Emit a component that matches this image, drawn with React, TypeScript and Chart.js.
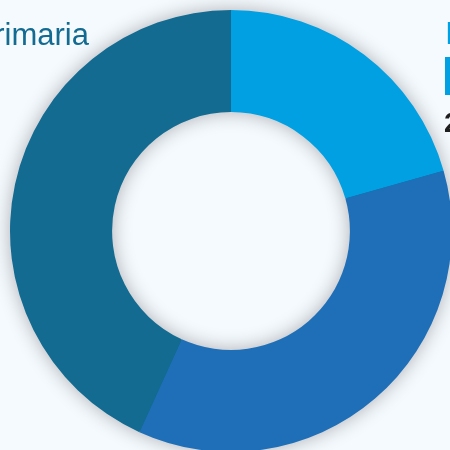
import React, { useEffect, useRef } from "react";
import { Chart, registerables } from "chart.js";

Chart.register(...registerables);

const categories = ["Infantil", "Secundaria", "Primaria"];
const values = [20.6, 36.2, 43.2];
const colors = ["#00A0E3", "#1F6FB8", "#136B91"];

const BG = "#F5FAFE";

const ringShadow = {
  id: "ringShadow",
  beforeDatasetsDraw(chart: any) {
    const meta = chart.getDatasetMeta(0);
    const arc = meta.data[0];
    if (!arc) return;
    const { x, y, outerRadius, innerRadius } = arc.getProps(["x", "y", "outerRadius", "innerRadius"], true);
    const ctx = chart.ctx;
    ctx.save();
    ctx.shadowColor = "rgba(0,0,0,0.32)";
    ctx.shadowBlur = 20;
    ctx.fillStyle = colors[2];
    ctx.beginPath();
    ctx.arc(x, y, outerRadius - 1, 0, Math.PI * 2);
    ctx.arc(x, y, innerRadius + 1, 0, Math.PI * 2, true);
    ctx.closePath();
    ctx.fill();
    ctx.restore();
  },
};

const labelsPlugin = {
  id: "outerLabels",
  afterDraw(chart: any) {
    const ctx = chart.ctx;
    ctx.save();
    ctx.font = "31px 'Liberation Sans', Arial, sans-serif";
    ctx.textBaseline = "alphabetic";
    // Primaria (third category), top-left
    ctx.fillStyle = colors[2];
    ctx.textAlign = "right";
    ctx.fillText(categories[2], 89, 45);
    // Infantil (first category), top-right
    ctx.fillStyle = colors[0];
    ctx.textAlign = "left";
    ctx.fillText(categories[0], 445, 44);
    ctx.fillRect(445, 57, 40, 38);
    ctx.fillStyle = "#1E1E1E";
    ctx.font = "bold 28px 'Liberation Sans', Arial, sans-serif";
    ctx.fillText(Math.round(values[0]) + "%", 444, 132);
    ctx.restore();
  },
};

export default function App() {
  const ref = useRef<HTMLCanvasElement | null>(null);
  useEffect(() => {
    if (!ref.current) return;
    const chart = new Chart(ref.current, {
      type: "doughnut",
      data: {
        labels: categories,
        datasets: [
          {
            data: values,
            backgroundColor: colors,
            borderWidth: 0,
            hoverOffset: 0,
            offset: 0,
          },
        ],
      },
      options: {
        responsive: false,
        maintainAspectRatio: false,
        animation: false,
        events: [],
        cutout: "53.8%",
        layout: { padding: 10 },
        plugins: {
          legend: { display: false },
          tooltip: { enabled: false },
        },
      },
      plugins: [ringShadow, labelsPlugin],
    });
    return () => chart.destroy();
  }, []);
  return (
    <div
      style={{
        position: "fixed",
        left: 0,
        top: 0,
        width: 450,
        height: 450,
        overflow: "hidden",
        background: BG,
      }}
    >
      <canvas ref={ref} width={462} height={462} style={{ position: "absolute", left: 0, top: 0, width: 462, height: 462 }} />
    </div>
  );
}
